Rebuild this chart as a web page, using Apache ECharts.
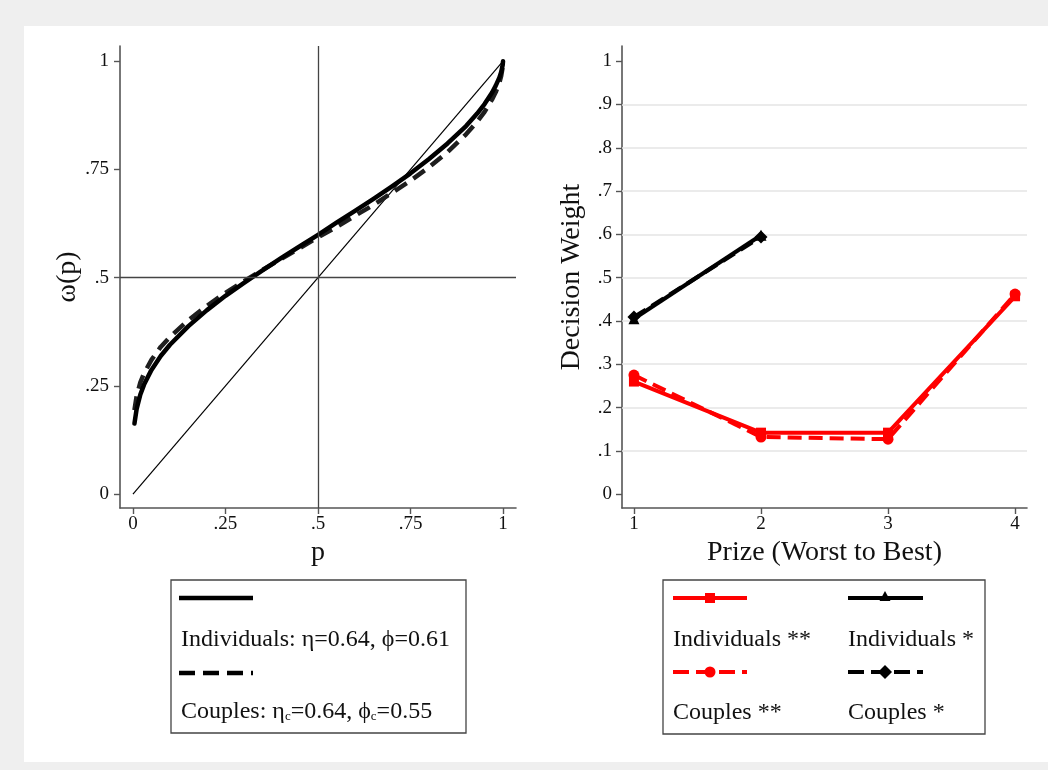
<!DOCTYPE html>
<html><head><meta charset="utf-8">
<script src="https://cdn.jsdelivr.net/npm/echarts@6/dist/echarts.min.js"></script>
<style>
html,body{margin:0;padding:0;background:#efefef;}
#bg{position:absolute;left:24px;top:26px;width:1024px;height:736px;background:#fff;}
#chart{position:absolute;left:0;top:0;width:1048px;height:770px;}
</style></head><body>
<div id="bg"></div><div id="chart"></div>
<script>
// ---- Left panel: probability weighting functions ----
const pGrid = [0.004,0.01,0.02,0.03,0.05,0.075,0.1,0.15,0.2,0.25,0.3,0.35,0.4,0.45,0.5,0.55,0.6,0.65,0.7,0.75,0.8,0.85,0.9,0.93,0.95,0.97,0.98,0.99,0.995,0.999,1];
const wIndividuals = [0.163,0.197,0.230,0.253,0.287,0.319,0.345,0.388,0.425,0.458,0.488,0.517,0.545,0.572,0.599,0.627,0.654,0.682,0.711,0.741,0.774,0.810,0.850,0.879,0.901,0.927,0.943,0.962,0.975,0.991,1];
const wCouples = [0.194,0.227,0.258,0.279,0.310,0.340,0.363,0.402,0.435,0.465,0.492,0.518,0.543,0.568,0.593,0.617,0.643,0.668,0.696,0.724,0.755,0.790,0.831,0.860,0.883,0.911,0.928,0.950,0.966,0.986,1];
const diagP = [0,1];
const diagW = [0,1];
const refP = 0.5;
const refW = 0.5;
const pTicks = [0,0.25,0.5,0.75,1];
const wTicks = [0,0.25,0.5,0.75,1];

// ---- Right panel: decision weights by prize ----
const prizes = [1,2,3,4];
const dwTicks = [0,0.1,0.2,0.3,0.4,0.5,0.6,0.7,0.8,0.9,1];
const dwGridLines = [0.1,0.2,0.3,0.4,0.5,0.6,0.7,0.8,0.9];
const individuals2 = [0.260,0.142,0.142,0.457];
const couples2 = [0.275,0.132,0.127,0.462];
const individuals1 = [0.405,0.598];
const couples1 = [0.409,0.594];

const FONT = '"Liberation Serif", "DejaVu Serif", serif';
const AX = '#555';
const TICKFS = 19;
const NAMEFS = 28;
const LEGFONT = '24px "Liberation Serif"';
const fmt = v => (v === 0 || v === 1) ? String(v) : String(v).replace(/^0\./, '.');

function zip(xs, ys){ return ys.map((y,i)=>[xs[i], y]); }

const chart = echarts.init(document.getElementById('chart'), null, {renderer:'canvas'});

function axisCommon(ticks, margin, extra){
  return Object.assign({
    type:'value',
    axisLine:{show:true,onZero:false,lineStyle:{color:AX,width:1.6}},
    axisTick:{show:true,customValues:ticks,length:6,lineStyle:{color:AX,width:1.4}},
    axisLabel:{customValues:ticks,formatter:fmt,color:'#111',fontFamily:FONT,fontSize:TICKFS,margin:margin},
    splitLine:{show:false},
    nameLocation:'middle',
    nameTextStyle:{fontFamily:FONT,fontSize:NAMEFS,color:'#111'}
  }, extra);
}

const option = {
  animation:false,
  backgroundColor:'transparent',
  grid:[
    {left:120, top:46, width:396, height:462},
    {left:622, top:46, width:405, height:462}
  ],
  xAxis:[
    axisCommon(pTicks,7,{gridIndex:0,min:-0.035,max:1.035,name:'p',nameGap:31}),
    axisCommon(prizes,7,{gridIndex:1,min:0.906,max:4.094,name:'Prize (Worst to Best)',nameGap:30})
  ],
  yAxis:[
    axisCommon(wTicks,11,{gridIndex:0,min:-0.032,max:1.035,name:'ω(p)',nameGap:37}),
    axisCommon(dwTicks,10,{gridIndex:1,min:-0.032,max:1.035,name:'Decision Weight',nameGap:36})
  ],
  series:[
    { // diagonal + reference lines
      type:'line', xAxisIndex:0, yAxisIndex:0, data:zip(diagP,diagW), showSymbol:false, silent:true,
      lineStyle:{color:'#000',width:1.2}, z:2,
      markLine:{silent:true,symbol:'none',label:{show:false},
        lineStyle:{color:'#444',width:1.3,type:'solid'},
        data:[{xAxis:refP},{yAxis:refW}]}
    },
    {
      name:'Individuals', type:'line', xAxisIndex:0, yAxisIndex:0, data:zip(pGrid,wIndividuals),
      showSymbol:false, lineStyle:{color:'#000',width:4.5,cap:'round',join:'round'}, z:4
    },
    {
      name:'Couples', type:'line', xAxisIndex:0, yAxisIndex:0, data:zip(pGrid,wCouples),
      showSymbol:false, lineStyle:{color:'#1e1e1e',width:4.5,type:[14,8]}, z:3
    },
    { // light gridlines right panel
      type:'line', xAxisIndex:1, yAxisIndex:1, data:[], silent:true, z:1,
      markLine:{silent:true,symbol:'none',label:{show:false},
        lineStyle:{color:'#e4e4e4',width:1.5,type:'solid'},
        data:dwGridLines.map(v=>({yAxis:v}))}
    },
    {
      name:'Individuals **', type:'line', xAxisIndex:1, yAxisIndex:1, data:zip(prizes,individuals2),
      symbol:'rect', symbolSize:10, itemStyle:{color:'#ff0000'}, lineStyle:{color:'#ff0000',width:4}, z:5
    },
    {
      name:'Couples **', type:'line', xAxisIndex:1, yAxisIndex:1, data:zip(prizes,couples2),
      symbol:'circle', symbolSize:11, itemStyle:{color:'#ff0000'}, lineStyle:{color:'#ff0000',width:4,type:[14,7]}, z:6
    },
    {
      name:'Individuals *', type:'line', xAxisIndex:1, yAxisIndex:1, data:zip(prizes,individuals1),
      symbol:'triangle', symbolSize:11, itemStyle:{color:'#000'}, lineStyle:{color:'#000',width:4}, z:5
    },
    {
      name:'Couples *', type:'line', xAxisIndex:1, yAxisIndex:1, data:zip(prizes,couples1),
      symbol:'diamond', symbolSize:13, itemStyle:{color:'#000'}, lineStyle:{color:'#000',width:4,type:[14,7]}, z:6
    }
  ],
  graphic:[
    // left legend
    {type:'rect', shape:{x:171,y:580,width:295,height:153}, style:{fill:'#fff',stroke:'#444',lineWidth:1.3}},
    {type:'line', shape:{x1:179,y1:598,x2:253,y2:598}, style:{stroke:'#000',lineWidth:4.5}},
    {type:'text', x:181, y:640, style:{text:'Individuals: η=0.64, ϕ=0.61', font:LEGFONT, fill:'#111', verticalAlign:'middle'}},
    {type:'line', shape:{x1:179,y1:673,x2:253,y2:673}, style:{stroke:'#000',lineWidth:4.5,lineDash:[16,8]}},
    {type:'text', x:181, y:712, style:{
      text:'{n|Couples: η}{s|c}{n|=0.64, ϕ}{s|c}{n|=0.55}', verticalAlign:'middle',
      rich:{n:{fontFamily:FONT,fontSize:24,fill:'#111',verticalAlign:'bottom'},
            s:{fontFamily:FONT,fontSize:13,fill:'#111',verticalAlign:'bottom',padding:[0,0,1,0]}}}},
    // right legend
    {type:'rect', shape:{x:663,y:580,width:322,height:154}, style:{fill:'#fff',stroke:'#444',lineWidth:1.3}},
    {type:'line', shape:{x1:673,y1:598,x2:747,y2:598}, style:{stroke:'#ff0000',lineWidth:4}},
    {type:'rect', shape:{x:705,y:593,width:10,height:10}, style:{fill:'#ff0000'}},
    {type:'line', shape:{x1:848,y1:598,x2:923,y2:598}, style:{stroke:'#000',lineWidth:4}},
    {type:'polygon', shape:{points:[[885,591],[879.5,601],[890.5,601]]}, style:{fill:'#000'}},
    {type:'text', x:673, y:640, style:{text:'Individuals **', font:LEGFONT, fill:'#111', verticalAlign:'middle'}},
    {type:'text', x:848, y:640, style:{text:'Individuals *', font:LEGFONT, fill:'#111', verticalAlign:'middle'}},
    {type:'line', shape:{x1:673,y1:672,x2:747,y2:672}, style:{stroke:'#ff0000',lineWidth:4,lineDash:[16,7]}},
    {type:'circle', shape:{cx:710,cy:672,r:5.5}, style:{fill:'#ff0000'}},
    {type:'line', shape:{x1:848,y1:672,x2:923,y2:672}, style:{stroke:'#000',lineWidth:4,lineDash:[16,7]}},
    {type:'polygon', shape:{points:[[885,665],[892,672],[885,679],[878,672]]}, style:{fill:'#000'}},
    {type:'text', x:673, y:713, style:{text:'Couples **', font:LEGFONT, fill:'#111', verticalAlign:'middle'}},
    {type:'text', x:848, y:713, style:{text:'Couples *', font:LEGFONT, fill:'#111', verticalAlign:'middle'}}
  ]
};
chart.setOption(option);
</script>
</body></html>
